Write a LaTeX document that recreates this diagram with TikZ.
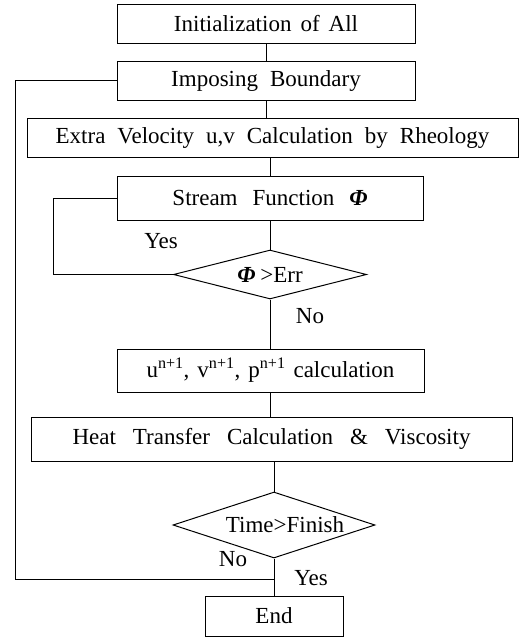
\documentclass[tikz,border=0pt]{standalone}
\usepackage{fontspec}
\setmainfont{Liberation Serif}
\usetikzlibrary{shapes.geometric}
\newcommand\flowfont{\fontsize{23}{27}\selectfont\spaceskip=12pt plus 2pt minus 2pt\relax}
\newcommand\phisym{\textbf{\textit{Φ}}}
\begin{document}
\begin{tikzpicture}[x=1pt,y=-1pt,line width=1pt,
  every node/.style={font=\flowfont},
  flowbox/.style={draw, rectangle, inner sep=0pt, line width=1pt},
  decision/.style={draw, diamond, inner sep=0pt, line width=1pt},
  lbl/.style={inner sep=0pt}]
\fill[white] (0,0) rectangle (521,638);
\useasboundingbox (0,0) rectangle (521,638);
\node[flowbox, minimum width=298pt, minimum height=39pt] (init) at (266,23.5) {\spaceskip=9pt\relax Initialization of All};
\node[flowbox, minimum width=298pt, minimum height=39pt] (bound) at (266,80.5) {Imposing Boundary};
\node[flowbox, minimum width=491pt, minimum height=39pt] (extra) at (272.5,137.5) {Extra Velocity u,v Calculation by Rheology};
\node[flowbox, minimum width=306pt, minimum height=44pt] (stream) at (270,198) {\spaceskip=15pt\relax Stream Function \phisym};
\node[decision, minimum width=193pt, minimum height=49pt, aspect=3.9] (err) at (270,274.5) {\phisym\hspace{5pt}>Err};
\node[flowbox, minimum width=307pt, minimum height=43pt] (uvp) at (270.5,370.5) {\spaceskip=8pt\relax u\textsuperscript{n+1}, v\textsuperscript{n+1}, p\textsuperscript{n+1} calculation};
\node[flowbox, minimum width=481pt, minimum height=44pt] (heat) at (271.5,439) {\spaceskip=17pt\relax Heat Transfer Calculation \& Viscosity};
\node[decision, minimum width=202pt, minimum height=66pt, aspect=3.06] (time) at (274,525) {\hspace{22pt}Time>Finish};
\node[flowbox, minimum width=138pt, minimum height=40pt] (end) at (274,616) {End};
\node[lbl] (yes1) at (161,241) {Yes};
\node[lbl] (no1) at (310,316) {No};
\node[lbl] (no2) at (233,559) {No};
\node[lbl] (yes2) at (311,578) {Yes};
\coordinate (yesL) at (53,274.5);
\coordinate (outerL) at (15,579);
\coordinate (outerJ) at (274,579);
\draw (init.south) -- (bound.south |- init.south) -- (bound.north);
\draw (bound.south) -- (bound.south |- extra.north);
\draw (stream.north |- extra.south) -- (stream.north);
\draw (stream.south) -- (err.north);
\draw (err.south) -- (err.south |- uvp.north);
\draw (uvp.south) -- (uvp.south |- heat.north);
\draw (time.north |- heat.south) -- (time.north);
\draw (time.south) -- (end.north);
\draw (err.west) -- (yesL) |- (stream.west);
\draw (bound.west) -| (outerL) -- (outerJ);
\end{tikzpicture}
\end{document}
